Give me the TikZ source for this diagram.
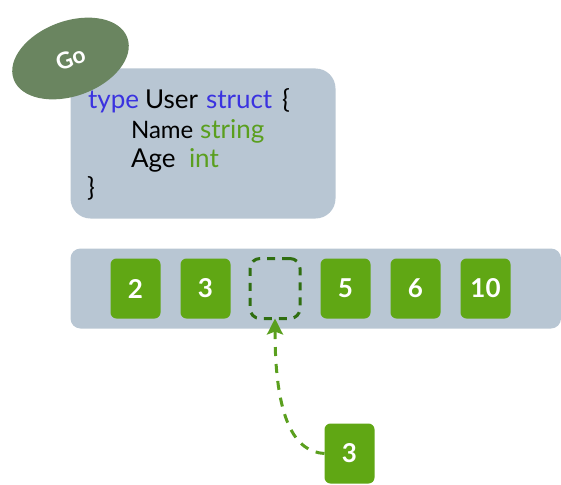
\documentclass[tikz,border=0pt]{standalone}
\usepackage{fontspec}
\setmainfont{Lato}
\usetikzlibrary{arrows.meta,shapes.geometric}
\definecolor{panel}{HTML}{B8C6D3}
\definecolor{leaf}{HTML}{60A714}
\definecolor{darkleaf}{HTML}{2F6E10}
\definecolor{badge}{HTML}{6A8560}
\definecolor{kw}{HTML}{3A32E0}
\definecolor{typ}{HTML}{5A9F1E}
\tikzset{
  x=1pt,y=-1pt,
  panelbox/.style={fill=panel,draw=none,anchor=north west,inner sep=0pt,outer sep=0pt},
  cell/.style={fill=leaf,rounded corners=6pt,minimum width=50pt,minimum height=60pt,inner sep=0pt,outer sep=0pt,text=white,font=\fontsize{26}{26}\selectfont\bfseries},
  hole/.style={draw=darkleaf,line width=3pt,dash pattern=on 8pt off 7pt,rounded corners=10pt,minimum width=50pt,minimum height=60pt,inner sep=0pt,outer sep=0pt},
  code/.style={anchor=base west,inner sep=0pt,outer sep=0pt,font=\fontsize{26}{26}\selectfont},
  narrowcode/.style={code,font=\fontsize{24}{24}\selectfont},
  link/.style={draw=typ,line width=3pt,dash pattern=on 9pt off 8pt,-{Stealth[length=16pt,width=16pt,inset=3pt]}}
}
\begin{document}
\begin{tikzpicture}
\useasboundingbox (0,0) rectangle (561,484);
\node[panelbox,rounded corners=20pt,minimum width=265pt,minimum height=150pt] (panel) at (70.5,68.5) {};
\node[panelbox,rounded corners=10pt,minimum width=490.5pt,minimum height=80pt] (row) at (70.5,248.5) {};
\node[fill=badge,ellipse,rotate=20,minimum width=121pt,minimum height=75pt,inner sep=0pt,text=white,font=\fontsize{23}{23}\selectfont\bfseries] (badge) at (70.5,58.5) {Go};
\node[code,text=kw] (t1) at (88,108) {type};
\node[code] (t2) at (145,108) {User};
\node[code,text=kw] (t3) at (206,108) {struct};
\node[code] (t4) at (282,108) {\{};
\node[narrowcode] (t5) at (131,138) {Name};
\node[code,text=typ] (t6) at (200,138) {string};
\node[code] (t7) at (131,167) {Age};
\node[code,text=typ] (t8) at (189,167) {int};
\node[code] (t9) at (87,196) {\}};
\node[cell] (c2) at (135.5,288.5) {2};
\node[cell] (c3) at (205.5,288.5) {3};
\node[hole] (gap) at (275,288.5) {};
\node[cell] (c5) at (345.5,288.5) {5};
\node[cell] (c6) at (415.5,288.5) {6};
\node[cell] (c10) at (485.5,288.5) {10};
\node[cell] (new) at (349.5,453.5) {3};
\draw[link] (new.west) .. controls (295,452) and (275,420) .. (gap.south);
\end{tikzpicture}
\end{document}
